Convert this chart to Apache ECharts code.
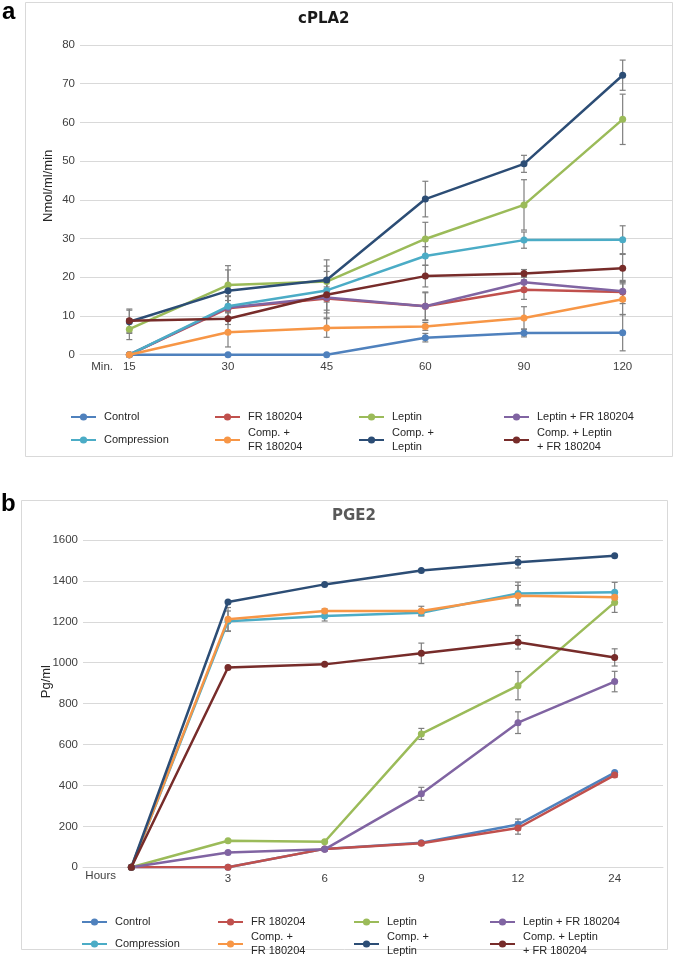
<!DOCTYPE html>
<html>
<head>
<meta charset="utf-8">
<script src="https://cdn.jsdelivr.net/npm/echarts@6/dist/echarts.min.js"></script>
<style>
html,body{margin:0;padding:0;background:#fff;}
#chart{width:685px;height:960px;}
</style>
</head>
<body>
<div id="chart"></div>
<script>
// ---------- DATA ----------
const seriesNames = ['Control', 'FR 180204', 'Leptin', 'Leptin + FR 180204', 'Compression', 'Comp. + FR 180204', 'Comp. + Leptin', 'Comp. + Leptin + FR 180204'];
const legendLabels = ['Control', 'FR 180204', 'Leptin', 'Leptin + FR 180204', 'Compression', 'Comp. +\nFR 180204', 'Comp. +\nLeptin', 'Comp. + Leptin\n+ FR 180204'];

// Panel a: cPLA2 (Nmol/ml/min) vs minutes
const catsA = ['15', '30', '45', '60', '90', '120'];
const controlA        = [0, 0, 0, 4.4, 5.6, 5.7];
const frA             = [0, 12.0, 14.5, 12.5, 16.8, 16.2];
const leptinA         = [6.6, 18.0, 18.9, 29.9, 38.7, 60.8];
const leptinFrA       = [0, 12.2, 14.8, 12.5, 18.7, 16.4];
const compressionA    = [0, 12.5, 16.6, 25.5, 29.6, 29.7];
const compFrA         = [0, 5.8, 6.9, 7.3, 9.5, 14.3];
const compLeptinA     = [8.5, 16.5, 19.3, 40.2, 49.3, 72.2];
const compLeptinFrA   = [8.8, 9.3, 15.5, 20.3, 21.0, 22.3];
// error (+/-)
const controlErrA      = [0, 0, 0, 1.1, 1.0, 4.7];
const frErrA           = [0, 3, 3, 3.5, 2.5, 3];
const leptinErrA       = [2.7, 5.0, 4.0, 4.3, 6.5, 6.5];
const leptinFrErrA     = [0, 3, 4, 3.7, 1.5, 2.5];
const compressionErrA  = [0, 1.5, 3, 2.4, 2.1, 3.6];
const compFrErrA       = [0, 3.8, 2.4, 1.0, 2.9, 4.0];
const compLeptinErrA   = [3, 5.4, 5.2, 4.6, 2.2, 3.9];
const compLeptinFrErrA = [3, 1.5, 6, 2.8, 1.0, 3.6];

// Panel b: PGE2 (Pg/ml) vs hours
const catsB = ['', '3', '6', '9', '12', '24'];
const controlB        = [0, 0, 90, 120, 209, 463];
const frB             = [0, 0, 90, 118, 192, 451];
const leptinB         = [0, 130, 125, 652, 888, 1295];
const leptinFrB       = [0, 72, 88, 359, 707, 908];
const compressionB    = [0, 1203, 1229, 1244, 1339, 1344];
const compFrB         = [0, 1213, 1253, 1253, 1328, 1320];
const compLeptinB     = [0, 1297, 1383, 1451, 1491, 1523];
const compLeptinFrB   = [0, 977, 992, 1046, 1100, 1026];
const controlErrB      = [0, 0, 0, 0, 27, 0];
const frErrB           = [0, 0, 0, 8, 30, 10];
const leptinErrB       = [0, 0, 0, 27, 69, 49];
const leptinFrErrB     = [0, 0, 0, 32, 53, 50];
const compressionErrB  = [0, 50, 25, 15, 55, 49];
const compFrErrB       = [0, 57, 10, 23, 50, 10];
const compLeptinErrB   = [0, 0, 0, 0, 28, 0];
const compLeptinFrErrB = [0, 0, 0, 50, 33, 42];

const yTicksA = {min: 0, max: 80, interval: 10};
const yTicksB = {min: 0, max: 1600, interval: 200};

// ---------- STYLE ----------
const colors = ['#4F81BD', '#C0504D', '#9BBB59', '#8064A2', '#4BACC6', '#F79646', '#2C4D75', '#772C2A'];
const FONT = "'Liberation Sans', Arial, sans-serif";
const TICK_SIZE = 11.5;
const LEG_SIZE = 11;

const valuesA = [controlA, frA, leptinA, leptinFrA, compressionA, compFrA, compLeptinA, compLeptinFrA];
const errorsA = [controlErrA, frErrA, leptinErrA, leptinFrErrA, compressionErrA, compFrErrA, compLeptinErrA, compLeptinFrErrA];
const valuesB = [controlB, frB, leptinB, leptinFrB, compressionB, compFrB, compLeptinB, compLeptinFrB];
const errorsB = [controlErrB, frErrB, leptinErrB, leptinFrErrB, compressionErrB, compFrErrB, compLeptinErrB, compLeptinFrErrB];

function errData(vals, errs) {
  const out = [];
  vals.forEach((arr, s) => arr.forEach((v, i) => { if (errs[s][i] > 0) out.push([i, v, errs[s][i]]); }));
  return out;
}

function renderErr(params, api) {
  const i = api.value(0), v = api.value(1), e = api.value(2);
  const t = api.coord([i, v + e]);
  const b = api.coord([i, v - e]);
  const c = 3;
  const st = {stroke: '#7F7F7F', lineWidth: 1.2};
  return {type: 'group', children: [
    {type: 'line', shape: {x1: t[0], y1: t[1], x2: b[0], y2: b[1]}, style: st},
    {type: 'line', shape: {x1: t[0] - c, y1: t[1], x2: t[0] + c, y2: t[1]}, style: st},
    {type: 'line', shape: {x1: b[0] - c, y1: b[1], x2: b[0] + c, y2: b[1]}, style: st}
  ]};
}

const series = [];
[[valuesA, errorsA, 0], [valuesB, errorsB, 1]].forEach(([vals, errs, k]) => {
  series.push({
    type: 'custom', xAxisIndex: k, yAxisIndex: k, renderItem: renderErr,
    data: errData(vals, errs), z: 1, silent: true, encode: {x: 0, y: 1}
  });
  vals.forEach((arr, s) => {
    series.push({
      type: 'line', name: seriesNames[s], xAxisIndex: k, yAxisIndex: k, data: arr,
      symbol: 'circle', symbolSize: 7, showSymbol: true,
      lineStyle: {width: 2.5, color: colors[s]}, itemStyle: {color: colors[s]},
      z: 2 + s, animation: false
    });
  });
});

// legends: one component per item, in 4 columns x 2 rows
const legendColsA = [70, 214, 358, 503];
const legendRowsA = [417, 440];
const legendColsB = [81, 217, 353, 489];
const legendRowsB = [922, 944];
const legends = [];
[[legendColsA, legendRowsA], [legendColsB, legendRowsB]].forEach(([cols, rows]) => {
  seriesNames.forEach((n, s) => {
    const multi = legendLabels[s].indexOf('\n') >= 0;
    legends.push({
      data: [n], left: cols[s % 4],
      top: rows[Math.floor(s / 4)] - (multi ? 13.5 : 6.75),
      itemWidth: 25, itemHeight: 9, itemGap: 0, padding: 0,
      formatter: () => legendLabels[s],
      textStyle: {fontFamily: FONT, fontSize: LEG_SIZE, color: '#262626', lineHeight: 13.5, padding: [0, 0, 0, 3]},
      selectedMode: false
    });
  });
});

function xAxis(cats, nameText, gridIdx, padTop) {
  return {
    type: 'category', gridIndex: gridIdx, data: cats, boundaryGap: true,
    name: nameText, nameLocation: 'start', nameGap: -33, nameMoveOverlap: false,
    nameTextStyle: {fontFamily: FONT, fontSize: TICK_SIZE, color: '#404040', verticalAlign: 'top', align: 'right', padding: [padTop, 0, 0, 0]},
    axisLine: {show: true, lineStyle: {color: '#D9D9D9', width: 1}},
    axisTick: {show: false},
    axisLabel: {fontFamily: FONT, fontSize: TICK_SIZE, color: '#404040', margin: 6, interval: 0}
  };
}
function yAxis(gridIdx, ticks, nameText, gap, shiftUp) {
  return {
    type: 'value', gridIndex: gridIdx, min: ticks.min, max: ticks.max, interval: ticks.interval,
    name: nameText, nameLocation: 'middle', nameGap: gap, nameMoveOverlap: false,
    nameTextStyle: {fontFamily: FONT, fontSize: 13, color: '#262626', padding: [0, 0, 0, shiftUp * 2]},
    axisLine: {show: false}, axisTick: {show: false},
    axisLabel: {fontFamily: FONT, fontSize: TICK_SIZE, color: '#404040', margin: 5, formatter: (v) => String(v)},
    splitLine: {lineStyle: {color: '#D9D9D9', width: 1}}
  };
}

const option = {
  animation: false,
  backgroundColor: '#ffffff',
  title: [
    {text: 'cPLA2', left: 298, top: 12, padding: 0, textStyle: {fontFamily: "'DejaVu Sans', sans-serif", fontWeight: 'bold', fontSize: 15, color: '#1a1a1a'}},
    {text: 'PGE2', left: 332, top: 509, padding: 0, textStyle: {fontFamily: "'DejaVu Sans', sans-serif", fontWeight: 'bold', fontSize: 15, color: '#595959'}}
  ],
  legend: legends,
  grid: [
    {left: 80, right: 13, top: 45, bottom: 960 - 354.7},
    {left: 83, right: 22, top: 540, bottom: 960 - 867.3}
  ],
  xAxis: [xAxis(catsA, 'Min.', 0, 6), xAxis(catsB, 'Hours', 1, 3)],
  yAxis: [yAxis(0, yTicksA, 'Nmol/ml/min', 25, 14), yAxis(1, yTicksB, 'Pg/ml', 30, 22)],
  graphic: [
    {type: 'rect', shape: {x: 25.5, y: 2.5, width: 647, height: 454}, style: {fill: null, stroke: '#D9D9D9', lineWidth: 1}, z: -1, silent: true},
    {type: 'rect', shape: {x: 21.5, y: 500.5, width: 646, height: 449}, style: {fill: null, stroke: '#D9D9D9', lineWidth: 1}, z: -1, silent: true},
    {type: 'text', left: 2, top: 0, style: {text: 'a', font: "bold 24px 'Liberation Sans', Arial, sans-serif", fill: '#000'}},
    {type: 'text', left: 1, top: 492, style: {text: 'b', font: "bold 24px 'Liberation Sans', Arial, sans-serif", fill: '#000'}}
  ],
  series: series
};

const chart = echarts.init(document.getElementById('chart'), null, {renderer: 'canvas'});
chart.setOption(option);
</script>
</body>
</html>
